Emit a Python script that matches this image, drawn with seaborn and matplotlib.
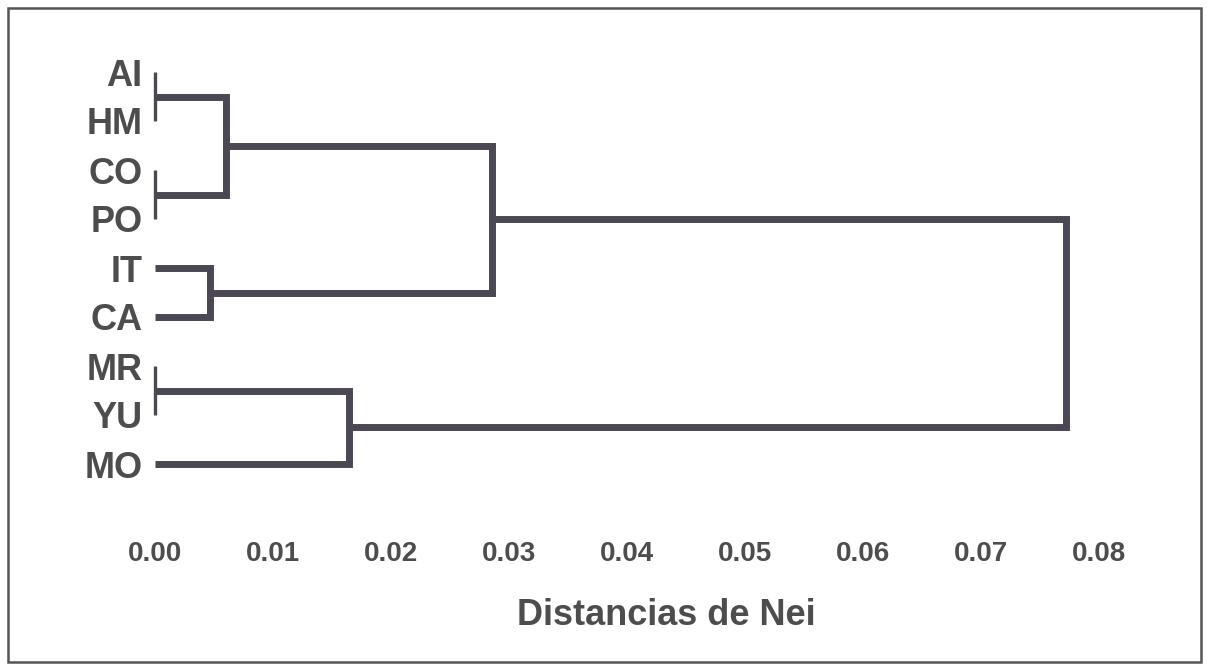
import numpy as np
import pandas as pd
import matplotlib
matplotlib.use("Agg")
import matplotlib.pyplot as plt
from matplotlib.patches import Rectangle
import seaborn as sns

# ---- data -------------------------------------------------------------
leaves = ["AI", "HM", "CO", "PO", "IT", "CA", "MR", "YU", "MO"]
# linkage rows: (child a, child b, Nei distance); new nodes numbered from len(leaves)
merge_a = [0, 2, 6, 4, 9, 11, 13, 15]
merge_b = [1, 3, 7, 5, 10, 8, 12, 14]
merge_h = [0.0, 0.0, 0.0, 0.0047, 0.0060, 0.0164, 0.0286, 0.0772]
x_ticks = [0.00, 0.01, 0.02, 0.03, 0.04, 0.05, 0.06, 0.07, 0.08]
x_tick_labels = ["0.00", "0.01", "0.02", "0.03", "0.04", "0.05", "0.06", "0.07", "0.08"]
x_title = "Distancias de Nei"

# ---- build dendrogram segments from the linkage -----------------------
n = len(leaves)
node_y = {i: float(i) for i in range(n)}
node_x = {i: 0.0 for i in range(n)}
rows = []
for k, (a, b, h) in enumerate(zip(merge_a, merge_b, merge_h)):
    pts = [(node_x[a], node_y[a]), (h, node_y[a]), (h, node_y[b]), (node_x[b], node_y[b])]
    for order, (px, py) in enumerate(pts):
        rows.append({"seg": k, "order": order, "x": px, "y": py, "zero": h == 0.0})
    new = n + k
    node_y[new] = (node_y[a] + node_y[b]) / 2.0
    node_x[new] = h
segs = pd.DataFrame(rows)

# ---- figure -----------------------------------------------------------
sns.set_theme(style="white")
plt.rcParams["font.family"] = ["Liberation Sans", "DejaVu Sans"]

W, H = 1207, 665
fig = plt.figure(figsize=(W / 100, H / 100), dpi=100)
fig.patch.set_facecolor("white")

x0_px, x8_px = 155, 1099
y_first, y_step = 72, 49
top_px = y_first - y_step / 2
bot_px = y_first + y_step * (n - 1) + y_step / 2
ax = fig.add_axes([x0_px / W, 1 - bot_px / H, (x8_px - x0_px) / W, (bot_px - top_px) / H])

line_col = "#4b4853"
text_col = "#4d4d4d"

sns.lineplot(data=segs[~segs["zero"]], x="x", y="y", units="seg", estimator=None,
             sort=False, color=line_col, lw=5.0, ax=ax, legend=False,
             solid_joinstyle="miter", solid_capstyle="butt", clip_on=False)
sns.lineplot(data=segs[segs["zero"]], x="x", y="y", units="seg", estimator=None,
             sort=False, color=line_col, lw=2.4, ax=ax, legend=False,
             solid_capstyle="butt", clip_on=False)

ax.set_xlim(0, 0.08)
ax.set_ylim(n - 0.5, -0.5)
ax.set_xticks(x_ticks)
ax.set_xticklabels(x_tick_labels, fontsize=20, fontweight="bold", color=text_col)
ax.set_yticks(range(n))
ax.set_yticklabels(leaves, fontsize=26, fontweight="bold", color=text_col)
ax.tick_params(axis="y", length=0, pad=9)
ax.tick_params(axis="x", length=0, pad=38)
for s in ax.spines.values():
    s.set_visible(False)
ax.set_ylabel("")
ax.set_xlabel(x_title, fontsize=26, fontweight="bold", color=text_col)
ax.xaxis.set_label_coords((666 - x0_px) / (x8_px - x0_px), (bot_px - 598) / (bot_px - top_px))
ax.xaxis.label.set_va("top")

# outer frame of the scanned figure
fig.patches.append(Rectangle((8 / W, 3 / H), (1201 - 8) / W, (662 - 8) / H,
                             transform=fig.transFigure, fill=False,
                             edgecolor="#555555", lw=1.8))

fig.savefig("out.png", dpi=100, facecolor="white")
